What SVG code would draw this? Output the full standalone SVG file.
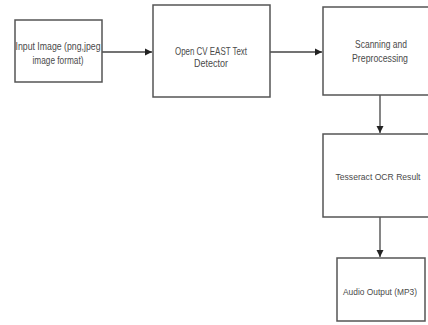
<svg xmlns="http://www.w3.org/2000/svg" width="428" height="325" viewBox="0 0 428 325">
<style>
.box{fill:#fff;stroke:#555;stroke-width:1.5}
.lbl{font-family:"Liberation Sans",Arial,sans-serif;font-size:10.5px;fill:#4a4a4a;text-anchor:middle}
.edge{stroke:#444;stroke-width:1.3;fill:none}
</style>
<defs>
<marker id="ah" markerWidth="8" markerHeight="8" refX="7" refY="4" orient="auto" markerUnits="userSpaceOnUse">
<path d="M0,0.5 L7,4 L0,7.5 Z" fill="#222"/>
</marker>
</defs>
<rect width="428" height="325" fill="#fff"/>
<g id="connectors">
<line class="edge" x1="102" y1="52" x2="152" y2="52" marker-end="url(#ah)"/>
<line class="edge" x1="270" y1="52" x2="322" y2="52" marker-end="url(#ah)"/>
<line class="edge" x1="380" y1="95" x2="380" y2="133" marker-end="url(#ah)"/>
<line class="edge" x1="380" y1="217" x2="380" y2="257" marker-end="url(#ah)"/>
</g>
<g id="input">
<rect class="box" x="15" y="20" width="87" height="62"/>
<text class="lbl" x="58" y="50" textLength="85" lengthAdjust="spacingAndGlyphs">Input Image (png,jpeg</text>
<text class="lbl" x="58" y="64" textLength="51" lengthAdjust="spacingAndGlyphs">image format)</text>
</g>
<g id="east">
<rect class="box" x="153" y="5" width="117" height="92"/>
<text class="lbl" x="211" y="55" textLength="72" lengthAdjust="spacingAndGlyphs">Open CV EAST Text</text>
<text class="lbl" x="211" y="67" textLength="34" lengthAdjust="spacingAndGlyphs">Detector</text>
</g>
<g id="scan">
<rect class="box" x="323" y="7" width="114" height="88"/>
<text class="lbl" x="381" y="48" textLength="52" lengthAdjust="spacingAndGlyphs">Scanning and</text>
<text class="lbl" x="380" y="62" textLength="56" lengthAdjust="spacingAndGlyphs">Preprocessing</text>
</g>
<g id="ocr">
<rect class="box" x="323" y="134" width="114" height="83"/>
<text class="lbl" x="378" y="180" style="font-size:9.5px" textLength="85" lengthAdjust="spacingAndGlyphs">Tesseract OCR Result</text>
</g>
<g id="audio">
<rect class="box" x="337" y="258" width="88" height="63"/>
<text class="lbl" x="380" y="295" style="font-size:9.5px" textLength="74" lengthAdjust="spacingAndGlyphs">Audio Output (MP3)</text>
</g>
</svg>
